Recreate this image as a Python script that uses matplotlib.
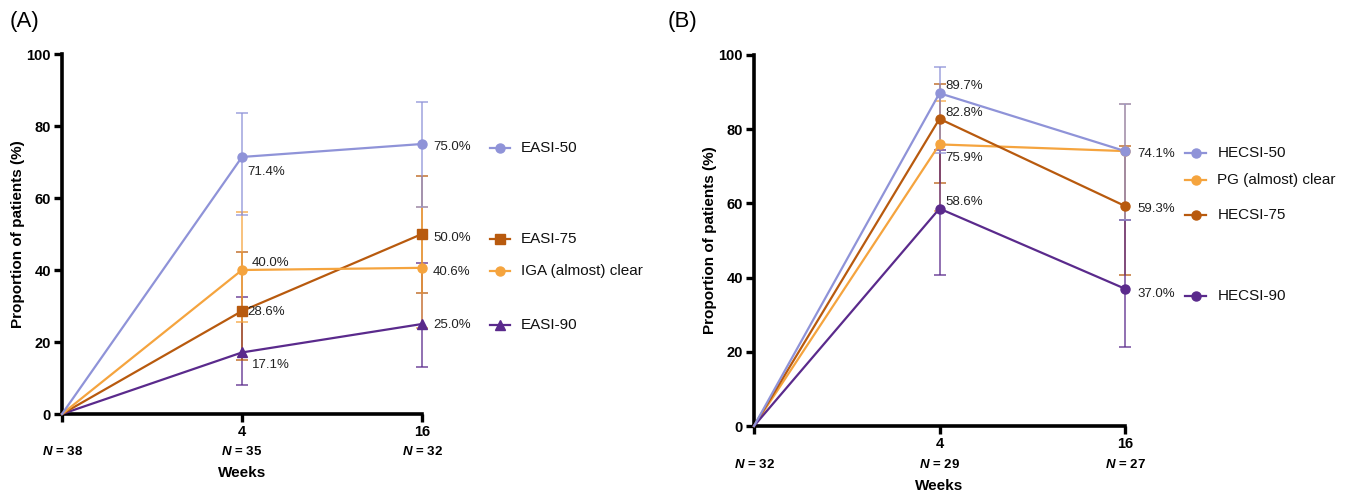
import matplotlib
matplotlib.use("Agg")
import matplotlib.pyplot as plt
import matplotlib.transforms as mtransforms

plt.rcParams['font.family'] = ['Liberation Sans', 'DejaVu Sans']
plt.rcParams['mathtext.fontset'] = 'custom'
plt.rcParams['mathtext.it'] = 'Liberation Sans:italic:bold'
plt.rcParams['mathtext.rm'] = 'Liberation Sans:bold'

# ---------------- data ----------------
weeks = ["0", "4", "16"]
n_a = [38, 35, 32]
n_b = [32, 29, 27]

# Panel A
a_names = ["EASI-50", "EASI-75", "IGA (almost) clear", "EASI-90"]
a_easi50 = [0, 71.4, 75.0]
a_easi50_lo = [0, 55.3, 57.6]
a_easi50_hi = [0, 83.5, 86.6]
a_easi75 = [0, 28.6, 50.0]
a_easi75_lo = [0, 15.0, 33.5]
a_easi75_hi = [0, 44.9, 66.1]
a_iga = [0, 40.0, 40.6]
a_iga_lo = [0, 25.5, 24.0]
a_iga_hi = [0, 56.2, 57.6]
a_easi90 = [0, 17.1, 25.0]
a_easi90_lo = [0, 8.0, 13.1]
a_easi90_hi = [0, 32.4, 41.9]

# Panel B
b_names = ["HECSI-50", "PG (almost) clear", "HECSI-75", "HECSI-90"]
b_hecsi50 = [0, 89.7, 74.1]
b_hecsi50_lo = [0, 73.5, 55.5]
b_hecsi50_hi = [0, 96.7, 86.7]
b_pg = [0, 75.9, 74.1]
b_pg_lo = [0, 58.0, 55.5]
b_pg_hi = [0, 87.7, 86.7]
b_hecsi75 = [0, 82.8, 59.3]
b_hecsi75_lo = [0, 65.4, 40.7]
b_hecsi75_hi = [0, 92.2, 75.5]
b_hecsi90 = [0, 58.6, 37.0]
b_hecsi90_lo = [0, 40.7, 21.4]
b_hecsi90_hi = [0, 74.5, 55.5]

# ---------------- style ----------------
C_BLUE = "#8F93D8"
C_ORANGE = "#F5A43E"
C_BROWN = "#B85A0E"
C_PURPLE = "#5A2A8C"

fig = plt.figure(figsize=(13.51, 4.95), dpi=100)
axA = fig.add_axes([62/1351, 1-414/495, 360/1351, 360/495])
axB = fig.add_axes([754/1351, 1-426/495, 371/1351, 371/495])


def style_axis(ax, ns):
    x = list(range(len(weeks)))
    ax.set_xlim(0, 2)
    ax.set_ylim(0, 100)
    for s in ["top", "right"]:
        ax.spines[s].set_visible(False)
    for s in ["left", "bottom"]:
        ax.spines[s].set_linewidth(2.6)
    ax.set_xticks(x)
    ax.set_xticklabels([""] + weeks[1:], fontweight="bold", fontsize=10.5)
    ax.set_yticks(range(0, 101, 20))
    ax.set_yticklabels([str(v) for v in range(0, 101, 20)], fontweight="bold", fontsize=10.5)
    ax.tick_params(axis="both", direction="out", length=6, width=2.4, pad=2)
    ax.set_ylabel("Proportion of patients (%)", fontweight="bold", fontsize=11, labelpad=1)
    trans = mtransforms.blended_transform_factory(ax.transData, ax.transAxes)
    for i, n in enumerate(ns):
        ax.text(i, -0.103, f"$N$ = {n}", transform=trans, ha="center", va="center",
                fontsize=9.5, fontweight="bold")
    ax.text(0.5, -0.163, "Weeks", transform=ax.transAxes, ha="center", va="center",
            fontsize=11, fontweight="bold")


def draw_series(ax, y, lo, hi, color, marker, ms=6.5):
    x = list(range(len(y)))
    yerr = [[v - l for v, l in zip(y, lo)], [h - v for v, h in zip(y, hi)]]
    ax.errorbar(x[1:], y[1:], yerr=[yerr[0][1:], yerr[1][1:]], fmt="none",
                ecolor=color, elinewidth=1.1, capsize=4, capthick=1.1,
                alpha=0.85, clip_on=False, zorder=2)
    ax.plot(x, y, color=color, lw=1.6, marker=marker, ms=ms,
            markevery=[1, 2], clip_on=False, zorder=3)


def label(ax, xi, v, dx, dy):
    ax.annotate(f"{v:.1f}%", xy=(xi, v), xytext=(dx, dy), textcoords="offset pixels",
                ha="left", va="center", fontsize=9.5, color="#222222",
                annotation_clip=False)


def legend_entry(ax, xfrac, yval, text, color, marker, ms=6.5):
    trans = mtransforms.blended_transform_factory(ax.transAxes, ax.transData)
    ax.plot([xfrac - 0.028, xfrac + 0.028], [yval, yval], color=color, lw=1.6,
            transform=trans, clip_on=False)
    ax.plot([xfrac], [yval], color=color, marker=marker, ms=ms, transform=trans,
            clip_on=False)
    ax.text(xfrac + 0.058, yval, text, transform=trans, ha="left", va="center",
            fontsize=11, color="#111111")


# ---------------- Panel A ----------------
style_axis(axA, n_a)
draw_series(axA, a_easi90, a_easi90_lo, a_easi90_hi, C_PURPLE, "^")
draw_series(axA, a_easi75, a_easi75_lo, a_easi75_hi, C_BROWN, "s")
draw_series(axA, a_iga, a_iga_lo, a_iga_hi, C_ORANGE, "o")
draw_series(axA, a_easi50, a_easi50_lo, a_easi50_hi, C_BLUE, "o")

label(axA, 1, a_easi50[1], 5, -15)
label(axA, 1, a_iga[1], 10, 7)
label(axA, 1, a_easi75[1], 5, -1)
label(axA, 1, a_easi90[1], 10, -13)
label(axA, 2, a_easi50[2], 11, -3)
label(axA, 2, a_easi75[2], 11, -4)
label(axA, 2, a_iga[2], 11, -4)
label(axA, 2, a_easi90[2], 11, -1)

a_leg_y = [73.9, 48.6, 39.7, 24.7]
legend_entry(axA, 1.217, a_leg_y[0], a_names[0], C_BLUE, "o")
legend_entry(axA, 1.217, a_leg_y[1], a_names[1], C_BROWN, "s")
legend_entry(axA, 1.217, a_leg_y[2], a_names[2], C_ORANGE, "o")
legend_entry(axA, 1.217, a_leg_y[3], a_names[3], C_PURPLE, "^")

# ---------------- Panel B ----------------
style_axis(axB, n_b)
draw_series(axB, b_pg, b_pg_lo, b_pg_hi, C_ORANGE, "o")
draw_series(axB, b_hecsi75, b_hecsi75_lo, b_hecsi75_hi, C_BROWN, "o")
draw_series(axB, b_hecsi90, b_hecsi90_lo, b_hecsi90_hi, C_PURPLE, "o")
draw_series(axB, b_hecsi50, b_hecsi50_lo, b_hecsi50_hi, C_BLUE, "o")

label(axB, 1, b_hecsi50[1], 6, 7)
label(axB, 1, b_hecsi75[1], 6, 6)
label(axB, 1, b_pg[1], 6, -14)
label(axB, 1, b_hecsi90[1], 6, 7)
label(axB, 2, b_hecsi50[2], 12, -3)
label(axB, 2, b_hecsi75[2], 12, -3)
label(axB, 2, b_hecsi90[2], 12, -5)

b_leg_y = [73.6, 66.3, 56.9, 35.0]
legend_entry(axB, 1.191, b_leg_y[0], b_names[0], C_BLUE, "o")
legend_entry(axB, 1.191, b_leg_y[1], b_names[1], C_ORANGE, "o")
legend_entry(axB, 1.191, b_leg_y[2], b_names[2], C_BROWN, "o")
legend_entry(axB, 1.191, b_leg_y[3], b_names[3], C_PURPLE, "o")

fig.text(10/1351, 1-22/495, "(A)", fontsize=16, ha="left", va="center")
fig.text(668/1351, 1-22/495, "(B)", fontsize=16, ha="left", va="center")

fig.savefig("out.png", dpi=100)
